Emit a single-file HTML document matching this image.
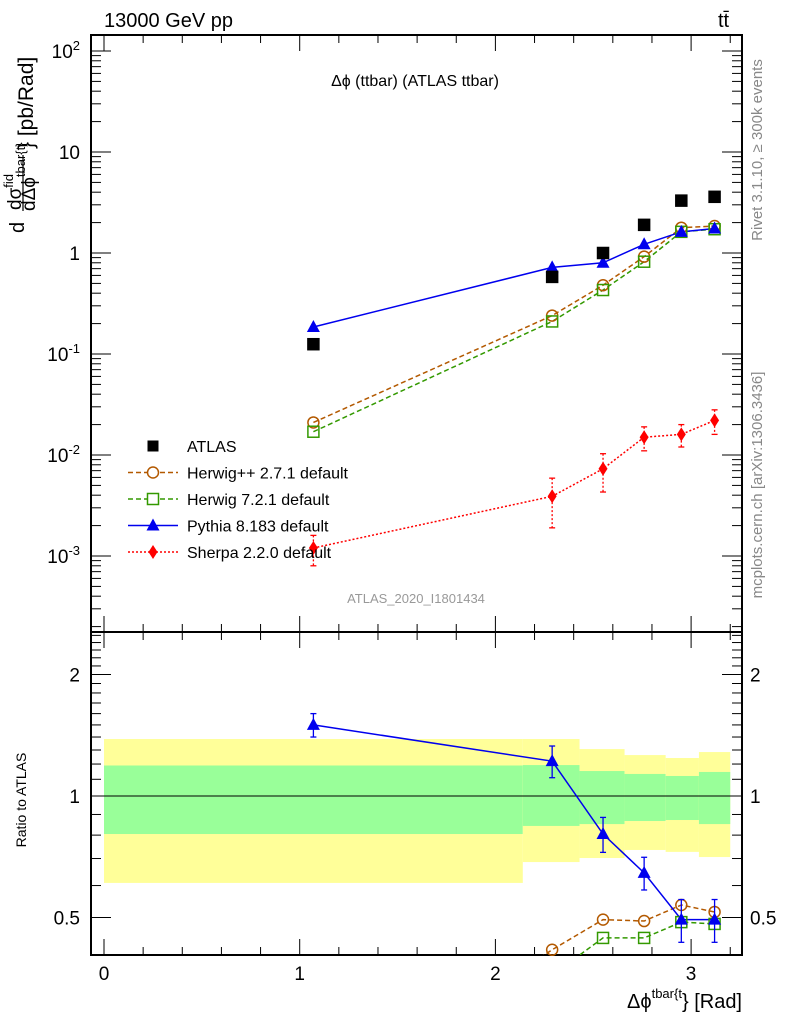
<!DOCTYPE html>
<html><head><meta charset="utf-8">
<style>
html,body{margin:0;padding:0;background:#fff;width:786px;height:1024px;overflow:hidden;}
svg{display:block;font-family:"Liberation Sans",sans-serif;}
</style></head>
<body>
<svg id="chart" width="786" height="1024" viewBox="0 0 786 1024">
<text x="104" y="27" font-size="20">13000 GeV pp</text>
<text x="718" y="27" font-size="20">tt̄</text>
<text x="415" y="86" font-size="16" text-anchor="middle">Δϕ (ttbar) (ATLAS ttbar)</text>
<text x="416" y="603" font-size="13" fill="#999" text-anchor="middle">ATLAS_2020_I1801434</text>
<text transform="translate(762,150) rotate(-90)" font-size="15" fill="#888" text-anchor="middle">Rivet 3.1.10, ≥ 300k events</text>
<text transform="translate(762,485) rotate(-90)" font-size="15" fill="#888" text-anchor="middle">mcplots.cern.ch [arXiv:1306.3436]</text>
<g>
<text transform="translate(24,233) rotate(-90)" font-size="20">d</text>
<text transform="translate(21,210) rotate(-90)" font-size="19">dσ<tspan font-size="13" dy="-8">fid</tspan></text>
<line x1="23" y1="211" x2="23" y2="155" stroke="#000" stroke-width="1.2"/>
<text transform="translate(35,211) rotate(-90)" font-size="19">dΔϕ<tspan font-size="13" dy="-10">tbar{t}</tspan></text>
<text transform="translate(33,149) rotate(-90)" font-size="21">} [pb/Rad]</text>
</g>
<text x="26" y="800" font-size="14" transform="rotate(-90,26,800)" text-anchor="middle">Ratio to ATLAS</text>
<text x="742" y="1008" font-size="20" text-anchor="end">Δϕ<tspan font-size="13" dy="-10">tbar{t</tspan><tspan dy="10">} [Rad]</tspan></text>
<g id="g"></g>
</svg>
<script>
const xs=[1.07,2.29,2.55,2.76,2.95,3.12];
const atlas=[0.125,0.58,1.0,1.9,3.3,3.6];
const pythia=[0.185,0.72,0.80,1.22,1.62,1.75];
const herwigpp=[0.021,0.24,0.48,0.92,1.78,1.85];
const herwig7=[0.017,0.21,0.43,0.82,1.62,1.72];
const sherpa=[0.0012,0.0039,0.0073,0.015,0.016,0.022];
const sherpaErr=[0.0004,0.002,0.003,0.004,0.004,0.006];
const pythiaRatio=[1.50,1.22,0.805,0.645,0.494,0.494];
const pythiaRatioErr=[0.10,0.11,0.08,0.06,0.06,0.06];
const herwigppRatio=[0.168,0.416,0.494,0.49,0.537,0.516];
const herwig7Ratio=[0.136,0.36,0.445,0.445,0.487,0.482];
const binEdges=[0,2.14,2.43,2.66,2.87,3.04,3.2];
const yellowHi=[1.384,1.384,1.307,1.263,1.242,1.285];
const yellowLo=[0.609,0.686,0.702,0.735,0.727,0.706];
const greenHi=[1.19,1.193,1.153,1.134,1.121,1.147];
const greenLo=[0.805,0.843,0.852,0.867,0.872,0.852];
const xTicks=[0,1,2,3];
const yTicks=[0.001,0.01,0.1,1,10,100];
const rTicks=[0.5,1,2];

const L=91,R=742,T=35,MB=632,B=955;
const X=v=>104+v*195.7;
const Y=v=>253-Math.log10(v)*101;
const RY=v=>796-Math.log2(v)*121.5;
const NS='http://www.w3.org/2000/svg';
const g=document.getElementById('g');
function el(t,a,p){const e=document.createElementNS(NS,t);for(const k in a)e.setAttribute(k,a[k]);(p||g).appendChild(e);return e;}

const bandG=el('g',{});


for(let i=0;i<binEdges.length-1;i++){
 const x1=X(binEdges[i]),x2=X(binEdges[i+1]);
 const y=el('rect',{x:x1,y:RY(yellowHi[i]),width:x2-x1,height:RY(yellowLo[i])-RY(yellowHi[i]),fill:'#ffff99'},bandG);
 
 
 const gr=el('rect',{x:x1,y:RY(greenHi[i]),width:x2-x1,height:RY(greenLo[i])-RY(greenHi[i]),fill:'#99ff99'},bandG);
 
 
}
el('line',{x1:L,x2:R,y1:RY(1),y2:RY(1),stroke:'#000','stroke-width':1});

el('rect',{x:L,y:T,width:R-L,height:MB-T,fill:'none',stroke:'#000','stroke-width':2});
el('rect',{x:L,y:MB,width:R-L,height:B-MB,fill:'none',stroke:'#000','stroke-width':2});

for(const top of [T,MB]){const bot=top===T?MB:B;
 for(let k=0;k<=16;k++){const v=k*0.2;const x=X(v);const maj=k%5===0;const l=maj?16:8;
  el('line',{x1:x,x2:x,y1:top,y2:top+l,stroke:'#000','stroke-width':1});
  el('line',{x1:x,x2:x,y1:bot,y2:bot-l,stroke:'#000','stroke-width':1});}}
xTicks.forEach(v=>{const t=el('text',{x:X(v),y:980,'font-size':19,'text-anchor':'middle'});t.textContent=v;
 });

for(let d=-4;d<=2;d++)for(let m=1;m<10;m++){const v=m*Math.pow(10,d);const y=Y(v);if(y<T||y>MB)continue;
 const l=m===1?20:10;el('line',{x1:L,x2:L+l,y1:y,y2:y,stroke:'#000'});el('line',{x1:R,x2:R-l,y1:y,y2:y,stroke:'#000'});}
yTicks.forEach(v=>{const e=Math.round(Math.log10(v));const t=el('text',{x:80,y:Y(v)+7,'font-size':19,'text-anchor':'end'});
 if(e===0)t.textContent='1';else if(e===1)t.textContent='10';else{t.textContent='10';const s=el('tspan',{dy:-8,'font-size':13},t);s.textContent=e;}
 });

for(let k=4;k<=25;k++){const v=k/10;const y=RY(v);if(y<MB+2||y>B-2)continue;const maj=(k===5||k===10||k===20);const l=maj?20:10;
 el('line',{x1:L,x2:L+l,y1:y,y2:y,stroke:'#000'});el('line',{x1:R,x2:R-l,y1:y,y2:y,stroke:'#000'});}
rTicks.forEach(v=>{const a=el('text',{x:80,y:RY(v)+7,'font-size':19,'text-anchor':'end'});a.textContent=v;
 
 const b=el('text',{x:750,y:RY(v)+7,'font-size':19});b.textContent=v;
 });

const defs=el('defs',{});const cp=el('clipPath',{id:'rc'},defs);el('rect',{x:L,y:MB,width:R-L,height:B-MB},cp);

function line(vals,fy,color,dash,name,clip){const pts=xs.map((x,i)=>X(x)+','+fy(vals[i])).join(' ');
 const a={points:pts,fill:'none',stroke:color,'stroke-width':1.5};if(dash)a['stroke-dasharray']=dash;if(clip)a['clip-path']='url(#rc)';
 const p=el('polyline',a);}
function circle(x,y,c,n){const e=el('circle',{cx:x,cy:y,r:5.5,fill:'none',stroke:c,'stroke-width':1.5});}
function square(x,y,c,n,fill){const e=el('rect',{x:x-5.5,y:y-5.5,width:11,height:11,fill:fill||'none',stroke:c,'stroke-width':1.5});}
function tri(x,y,c,n){const e=el('polygon',{points:`${x},${y-7} ${x-6.5},${y+5} ${x+6.5},${y+5}`,fill:c});}
function diamond(x,y,c,n){const e=el('polygon',{points:`${x},${y-7} ${x-4.5},${y} ${x},${y+7} ${x+4.5},${y}`,fill:c});}
function err(x,y1,y2,c,dash){const a={x1:x,x2:x,y1:y1,y2:y2,stroke:c,'stroke-width':1.3};if(dash)a['stroke-dasharray']=dash;el('line',a);
 el('line',{x1:x-3,x2:x+3,y1:y1,y2:y1,stroke:c,'stroke-width':1.3});el('line',{x1:x-3,x2:x+3,y1:y2,y2:y2,stroke:c,'stroke-width':1.3});}

line(herwigpp,Y,'#b35900','5,3','herwigpp-line');
line(herwig7,Y,'#339900','5,3','herwig7-line');
line(pythia,Y,'#0000ee',null,'pythia-line');
line(sherpa,Y,'#ff0000','2,2','sherpa-line');
xs.forEach((x,i)=>{
 circle(X(x),Y(herwigpp[i]),'#b35900','herwigpp-point');
 square(X(x),Y(herwig7[i]),'#339900','herwig7-point');
 tri(X(x),Y(pythia[i]),'#0000ee','pythia-point');
 err(X(x),Y(sherpa[i]+sherpaErr[i]),Y(Math.max(sherpa[i]-sherpaErr[i],1e-5)),'#ff0000','2,2');
 diamond(X(x),Y(sherpa[i]),'#ff0000','sherpa-point');
 square(X(x),Y(atlas[i]),'#000','atlas-point','#000');
});

line(herwigppRatio,RY,'#b35900','5,3','herwigpp-ratio-line',true);
line(herwig7Ratio,RY,'#339900','5,3','herwig7-ratio-line',true);
line(pythiaRatio,RY,'#0000ee',null,'pythia-ratio-line',true);
xs.forEach((x,i)=>{
 if(RY(herwigppRatio[i])<B-4)circle(X(x),RY(herwigppRatio[i]),'#b35900','herwigpp-ratio-point');
 if(RY(herwig7Ratio[i])<B-4)square(X(x),RY(herwig7Ratio[i]),'#339900','herwig7-ratio-point');
 err(X(x),RY(pythiaRatio[i]+pythiaRatioErr[i]),RY(pythiaRatio[i]-pythiaRatioErr[i]),'#0000ee');
 tri(X(x),RY(pythiaRatio[i]),'#0000ee','pythia-ratio-point');
});

const leg=[['ATLAS','atlas'],['Herwig++ 2.7.1 default','hpp'],['Herwig 7.2.1 default','h7'],['Pythia 8.183 default','py'],['Sherpa 2.2.0 default','sh']];
leg.forEach((e,i)=>{const y=446+i*26.5;const lg=el('g',{});
 const cx=153;
 if(e[1]==='atlas'){el('rect',{x:cx-5.5,y:y-5.5,width:11,height:11,fill:'#000'},lg);}
 if(e[1]==='hpp'){el('line',{x1:128,x2:178,y1:y,y2:y,stroke:'#b35900','stroke-dasharray':'5,3','stroke-width':1.5},lg);el('circle',{cx:cx,cy:y,r:5.5,fill:'#fff',stroke:'#b35900','stroke-width':1.5},lg);}
 if(e[1]==='h7'){el('line',{x1:128,x2:178,y1:y,y2:y,stroke:'#339900','stroke-dasharray':'5,3','stroke-width':1.5},lg);el('rect',{x:cx-5.5,y:y-5.5,width:11,height:11,fill:'#fff',stroke:'#339900','stroke-width':1.5},lg);}
 if(e[1]==='py'){el('line',{x1:128,x2:178,y1:y,y2:y,stroke:'#0000ee','stroke-width':1.5},lg);el('polygon',{points:`${cx},${y-7} ${cx-6.5},${y+5} ${cx+6.5},${y+5}`,fill:'#0000ee'},lg);}
 if(e[1]==='sh'){el('line',{x1:128,x2:178,y1:y,y2:y,stroke:'#ff0000','stroke-dasharray':'2,2','stroke-width':1.5},lg);el('polygon',{points:`${cx},${y-7} ${cx-4.5},${y} ${cx},${y+7} ${cx+4.5},${y}`,fill:'#ff0000'},lg);}
 const t=el('text',{x:187,y:y+6,'font-size':16},lg);t.textContent=e[0];});
</script>
</body></html>
